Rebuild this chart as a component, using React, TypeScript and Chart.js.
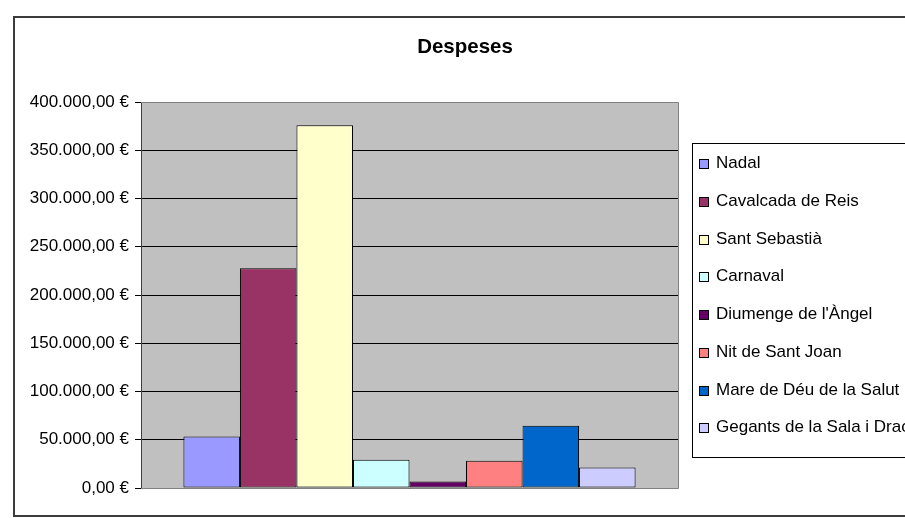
import React, { useEffect, useLayoutEffect, useRef } from "react";
import { Chart, registerables } from "chart.js";

Chart.register(...registerables);

const titleText = "Despeses";
const categories = ["Despeses"];
const seriesNames = [
  "Nadal",
  "Cavalcada de Reis",
  "Sant Sebastià",
  "Carnaval",
  "Diumenge de l'Àngel",
  "Nit de Sant Joan",
  "Mare de Déu de la Salut",
  "Gegants de la Sala i Dracs",
];
const seriesValues = [53400, 227600, 375800, 29300, 6800, 28200, 64400, 21300];
const yTickValues = [0, 50000, 100000, 150000, 200000, 250000, 300000, 350000, 400000];
const seriesColors = [
  "#9999FF",
  "#993366",
  "#FFFFCC",
  "#CCFFFF",
  "#660066",
  "#FF8080",
  "#0066CC",
  "#CCCCFF",
];

const FONT = "'Liberation Sans', Arial, sans-serif";

function formatEuro(v: number): string {
  const intPart = Math.round(v)
    .toString()
    .replace(/\B(?=(\d{3})+(?!\d))/g, ".");
  return intPart + ",00 €";
}

const decorPlugin = {
  id: "decor",
  beforeDraw(chart: any) {
    const ctx = chart.ctx;
    const a = chart.chartArea;
    ctx.save();
    ctx.fillStyle = "#ffffff";
    ctx.fillRect(0, 0, chart.width, chart.height);
    // outer frame
    ctx.strokeStyle = "#3c3c3c";
    ctx.lineWidth = 2;
    ctx.strokeRect(14, 17, 1200, 499);
    // plot background
    ctx.fillStyle = "#C0C0C0";
    ctx.fillRect(a.left, a.top, a.right - a.left, a.bottom - a.top);
    // title
    ctx.fillStyle = "#000000";
    ctx.font = `bold 20.5px ${FONT}`;
    ctx.textAlign = "center";
    ctx.textBaseline = "middle";
    ctx.fillText(titleText, 465, 47);
    ctx.restore();
  },
  beforeDatasetsDraw(chart: any) {
    const ctx = chart.ctx;
    const a = chart.chartArea;
    ctx.save();
    ctx.strokeStyle = "#808080";
    ctx.lineWidth = 1;
    ctx.beginPath();
    ctx.moveTo(a.left, a.top + 0.5);
    ctx.lineTo(a.right + 0.5, a.top + 0.5);
    ctx.lineTo(a.right + 0.5, a.bottom + 0.5);
    ctx.lineTo(a.left, a.bottom + 0.5);
    ctx.stroke();
    ctx.restore();
  },
  afterDraw(chart: any) {
    const ctx = chart.ctx;
    ctx.save();
    const lx = 692;
    const ly = 143;
    ctx.fillStyle = "#ffffff";
    ctx.fillRect(lx, ly, 400, 314);
    ctx.strokeStyle = "#000000";
    ctx.lineWidth = 1;
    ctx.strokeRect(lx + 0.5, ly + 0.5, 400, 314);
    ctx.font = `17px ${FONT}`;
    ctx.textAlign = "left";
    ctx.textBaseline = "alphabetic";
    seriesNames.forEach((name, i) => {
      const base = Math.round(168.3 + i * 37.7);
      ctx.fillStyle = seriesColors[i];
      ctx.fillRect(699, base - 9, 10, 10);
      ctx.strokeStyle = "#000000";
      ctx.strokeRect(699.5, base - 8.5, 9, 9);
      ctx.fillStyle = "#000000";
      ctx.fillText(name, 716, base);
    });
    ctx.restore();
  },
};

export default function App() {
  const canvasRef = useRef<HTMLCanvasElement | null>(null);

  useLayoutEffect(() => {
    document.documentElement.style.overflow = "hidden";
    document.body.style.margin = "0";
  }, []);

  useEffect(() => {
    const canvas = canvasRef.current;
    if (!canvas) return;
    const chart = new Chart(canvas, {
      type: "bar",
      data: {
        labels: categories,
        datasets: seriesNames.map((name, i) => ({
          label: name,
          data: [seriesValues[i]],
          backgroundColor: seriesColors[i],
          borderColor: "#000000",
          borderWidth: 1,
          borderSkipped: false,
          categoryPercentage: 0.842,
          barPercentage: 1,
        })),
      },
      options: {
        responsive: false,
        animation: false,
        devicePixelRatio: 1,
        layout: { padding: { left: 21, right: 227, top: 102, bottom: 30 } },
        plugins: {
          legend: { display: false },
          title: { display: false },
          tooltip: { enabled: false },
        },
        scales: {
          x: { display: false },
          y: {
            min: 0,
            max: 400000,
            afterFit(scale: any) {
              scale.width = 120;
            },
            afterBuildTicks(scale: any) {
              scale.ticks = yTickValues.map((v) => ({ value: v }));
            },
            border: { display: true, color: "#404040", width: 1 },
            grid: {
              color: (c: any) => (c.tick && c.tick.value === 400000 ? "#808080" : "#000000"),
              tickColor: "#000000",
              tickLength: 6,
              lineWidth: 1,
            },
            ticks: {
              padding: 6,
              color: "#000000",
              font: { family: FONT, size: 17 },
              callback: (v: any) => formatEuro(Number(v)),
            },
          },
        },
      },
      plugins: [decorPlugin],
    } as any);
    return () => chart.destroy();
  }, []);

  return (
    <div style={{ width: 905, height: 518 }}>
      <canvas ref={canvasRef} width={905} height={518} style={{ display: "block" }} />
    </div>
  );
}
